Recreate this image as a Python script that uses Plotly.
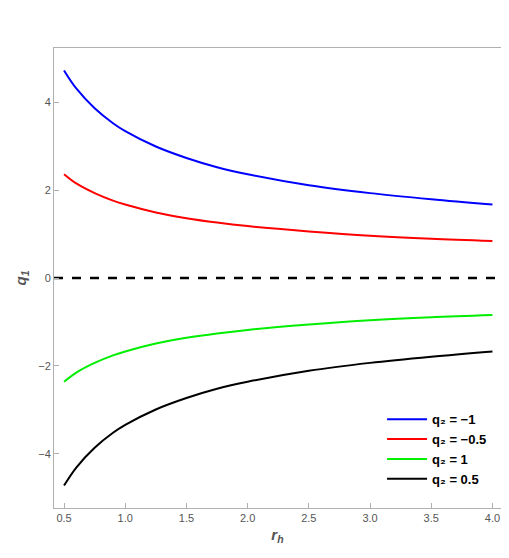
import plotly.graph_objects as go

# values
r_h = [0.5, 0.6, 0.75, 0.9, 1.0, 1.25, 1.5, 1.75, 2.0, 2.5, 3.0, 3.5, 4.0]
q1_m1 = [4.72, 4.31, 3.86, 3.52, 3.34, 2.99, 2.73, 2.52, 2.36, 2.11, 1.93, 1.79, 1.67]
q1_m05 = [2.36, 2.15, 1.93, 1.76, 1.67, 1.49, 1.36, 1.26, 1.18, 1.06, 0.96, 0.89, 0.84]
q1_p1 = [-2.36, -2.15, -1.93, -1.76, -1.67, -1.49, -1.36, -1.26, -1.18, -1.06, -0.96, -0.89, -0.84]
q1_p05 = [-4.72, -4.31, -3.86, -3.52, -3.34, -2.99, -2.73, -2.52, -2.36, -2.11, -1.93, -1.79, -1.67]

series = [("q₂ = −1", q1_m1, "#0000ff"), ("q₂ = −0.5", q1_m05, "#ff0000"),
          ("q₂ = 1", q1_p1, "#00ee00"), ("q₂ = 0.5", q1_p05, "#000000")]

fig = go.Figure()
fig.add_trace(go.Scatter(x=[0.418, 4.07], y=[0, 0], mode="lines", showlegend=False,
                         line=dict(color="black", width=2.5, dash="dash")))
for name, ys, c in series:
    fig.add_trace(go.Scatter(x=r_h, y=ys, mode="lines", name="<b>" + name + "</b>",
                             line=dict(color=c, width=2, shape="spline")))

ax = dict(showgrid=False, zeroline=False, showline=True, mirror=True, linecolor="#b0b0b0",
          ticks="inside", tickcolor="#b0b0b0", tickfont=dict(size=11, color="#555"))
fig.update_layout(
    width=509, height=558, plot_bgcolor="white", paper_bgcolor="white",
    margin=dict(l=44, r=16, t=40, b=58),
    font=dict(family="Liberation Sans"),
    xaxis=dict(ax, range=[0.418, 4.07], dtick=0.5, tickformat=".1f",
               title=dict(text="<b><i>r<sub>h</sub></i></b>", font=dict(size=15, color="#555"), standoff=6)),
    yaxis=dict(ax, range=[-5.23, 5.23], dtick=2,
               title=dict(text="<b><i>q<sub>1</sub></i></b>", font=dict(size=15, color="#555"), standoff=8)),
    legend=dict(x=0.98, y=0.03, xanchor="right", yanchor="bottom", bgcolor="rgba(255,255,255,0)",
                font=dict(size=13, color="black", family="Liberation Sans"), itemwidth=40),
)
fig.write_html("out.html")
